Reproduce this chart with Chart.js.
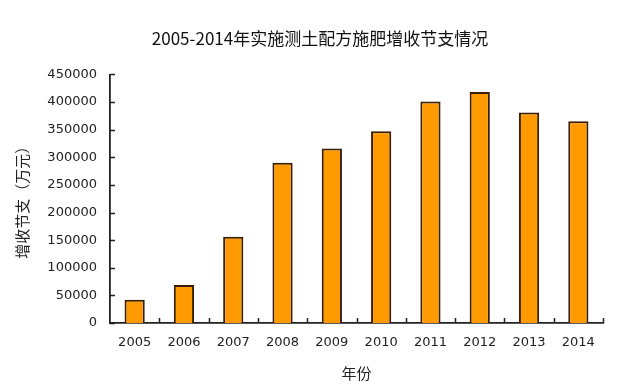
<!DOCTYPE html>
<html>
<head>
<meta charset="utf-8">
<script src="https://cdn.jsdelivr.net/npm/chart.js@4"></script>
<style>
html,body{margin:0;padding:0;background:#fff;}
#wrap{width:640px;height:386px;}
</style>
</head>
<body>
<div id="wrap"><canvas id="c" width="640" height="386"></canvas></div>
<script>
const categories = ['2005','2006','2007','2008','2009','2010','2011','2012','2013','2014'];
const savings = [42000, 69000, 156000, 290000, 316000, 347000, 401000, 418000, 381000, 365000];
const yTicks = [0, 50000, 100000, 150000, 200000, 250000, 300000, 350000, 400000, 450000];
const titleText = '2005-2014年实施测土配方施肥增收节支情况';
const yTitle = '增收节支（万元）';
const xTitle = '年份';

const innerTicks = {
  id: 'innerTicks',
  afterDraw(chart) {
    const ctx = chart.ctx, x = chart.scales.x, y = chart.scales.y;
    const axisX = x.left, axisY = y.bottom;
    ctx.save();
    ctx.strokeStyle = '#222';
    ctx.lineWidth = 1.5;
    ctx.beginPath();
    yTicks.forEach(v => {
      const py = Math.round(y.getPixelForValue(v)) + 0.5;
      ctx.moveTo(axisX, py); ctx.lineTo(axisX + 5, py);
    });
    for (let i = 0; i < categories.length; i++) {
      const px = i < categories.length - 1
        ? (x.getPixelForValue(i) + x.getPixelForValue(i + 1)) / 2
        : x.right;
      ctx.moveTo(Math.round(px) + 0.5, axisY); ctx.lineTo(Math.round(px) + 0.5, axisY - 5);
    }
    ctx.stroke();
    ctx.restore();
  }
};

new Chart(document.getElementById('c'), {
  type: 'bar',
  data: {
    labels: categories,
    datasets: [{
      data: savings,
      backgroundColor: '#FF9B00',
      borderColor: '#3a1e00',
      borderWidth: 2,
      barPercentage: 0.41,
      categoryPercentage: 1.0
    }]
  },
  options: {
    responsive: false,
    animation: false,
    devicePixelRatio: 1,
    layout: { padding: { left: 37, right: 37, top: 0, bottom: 0 } },
    plugins: {
      legend: { display: false },
      tooltip: { enabled: false },
      title: {
        display: true,
        text: titleText,
        color: '#111',
        font: { family: '"Noto Sans CJK SC", sans-serif', size: 17, weight: 'normal', lineHeight: 1.2 },
        padding: { top: 28, bottom: 26 }
      }
    },
    scales: {
      x: {
        grid: { display: false, drawTicks: false },
        border: { display: true, color: '#222', width: 1.8 },
        ticks: { color: '#222', font: { family: '"DejaVu Sans", sans-serif', size: 13 }, padding: 12, maxRotation: 0 },
        title: {
          display: true, text: xTitle, color: '#222',
          font: { family: '"Noto Sans CJK SC", sans-serif', size: 15, lineHeight: 1.2 },
          padding: { top: 0, bottom: 4 }
        },
        afterFit(s) { s.height = 63; }
      },
      y: {
        min: 0, max: 450000,
        afterBuildTicks(s) { s.ticks = yTicks.map(v => ({ value: v })); },
        grid: { display: false, drawTicks: false },
        border: { display: true, color: '#222', width: 1.8 },
        ticks: {
          color: '#222', font: { family: '"DejaVu Sans", sans-serif', size: 13 }, padding: 13,
          callback: v => String(v)
        },
        title: {
          display: true, text: yTitle, color: '#222',
          font: { family: '"Noto Sans CJK SC", sans-serif', size: 15, lineHeight: 1.2 },
          padding: { top: -24, bottom: 0 }
        },
        afterFit(s) { s.width = 73; }
      }
    }
  },
  plugins: [innerTicks]
});
</script>
</body>
</html>
